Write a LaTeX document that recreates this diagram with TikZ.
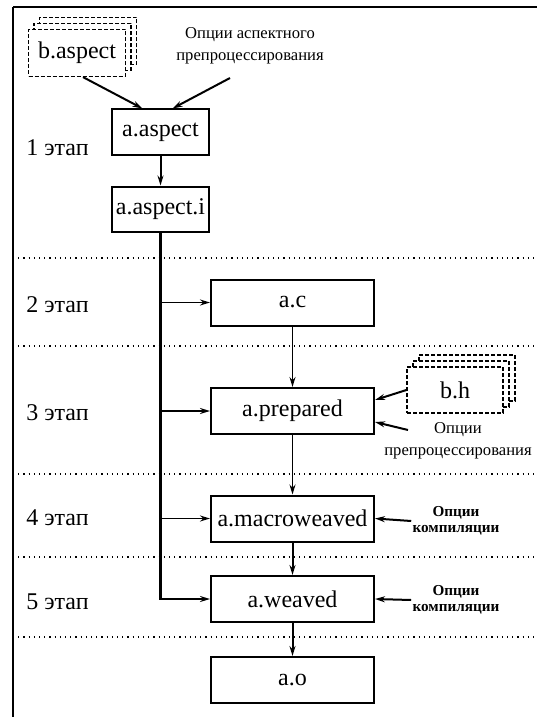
\documentclass[tikz,border=0pt]{standalone}
\usepackage{fontspec}
\setmainfont{Liberation Serif}
\newfontfamily\timesfont{Liberation Serif}
\usetikzlibrary{arrows.meta}

\tikzset{
  mainbox/.style={draw, line width=1pt, fill=white, minimum width=81.5pt, minimum height=23pt, inner sep=2pt, font=\timesfont\fontsize{12}{14}\selectfont},
  aspbox/.style={mainbox, minimum width=48.5pt, minimum height=22.5pt},
  srcbox/.style={draw, line width=0.6pt, dash pattern=on 2pt off 1pt, fill=white, minimum width=48.5pt, minimum height=23.5pt, inner sep=2pt, font=\timesfont\fontsize{12}{14}\selectfont},
  opttext/.style={align=center, inner sep=0.5pt, font=\timesfont\fontsize{8.3}{11}\selectfont},
  compopt/.style={align=center, inner sep=0.5pt, font=\timesfont\fontsize{7.6}{8}\selectfont\bfseries},
  stage/.style={anchor=west, inner sep=0pt, font=\timesfont\fontsize{12}{14}\selectfont},
  feed/.style={->, line width=1pt},
  thin feed/.style={->, line width=0.7pt}
}

\begin{document}
\begin{tikzpicture}[x=0.5pt, y=-0.5pt, >={Stealth[length=5pt,width=3pt]}]
    \useasboundingbox (0,0) rectangle (537,717);

    % Frame and stage borders
    \draw[line width=0.6pt] (13,717) -- (13,7);
    \draw[line width=0.9pt] (13,7) -- (537,7);
    \foreach \y in {258,346,474,557,637}
        \draw[line width=0.6pt, dotted] (13,\y) -- (537,\y);

    % Stages
    \foreach \n/\y in {1/148, 2/305, 3/413, 4/518, 5/602}
        \node[stage] (stage\n) at (26,\y) {\n{} этап};

    % Aspect sources
    \foreach \k in {2,1}
        \node[srcbox, xshift=\k*2.75pt, yshift=\k*3pt] at (77,53) {};
    \node[srcbox] (baspect) at (77,53) {b.aspect};
    \node[opttext] (optasp) at (250,46) {Опции аспектного\\препроцессирования};
    \coordinate (optasptail) at (230,78);

    % Stage 1
    \node[aspbox] (aaspect) at (160.5,132) {a.aspect};
    \node[aspbox] (aaspecti) at (160.5,209) {a.aspect.i};
    \draw[feed] ([xshift=3pt]baspect.south) -- ([xshift=-9pt]aaspect.north);
    \draw[feed] (optasptail) -- ([xshift=6pt]aaspect.north);
    \draw[feed] (aaspect) -- (aaspecti);

    % Stages 2--5
    \node[mainbox] (ac) at (292.5,302.5) {a.c};
    \node[mainbox] (aprep) at (292.5,411) {a.prepared};
    \node[mainbox] (amacro) at (292.5,518.5) {a.macroweaved};
    \node[mainbox] (aweaved) at (292.5,599) {a.weaved};
    \node[mainbox] (ao) at (292.5,680) {a.o};

    \draw[thin feed] (ac) -- (aprep);
    \draw[thin feed] (aprep) -- (amacro);
    \draw[feed] (amacro) -- (aweaved);
    \draw[feed] (aweaved) -- (ao);

    % Bus from a.aspect.i
    \draw[->, line width=1.2pt] (aaspecti.south) |- (aweaved.west);
    \foreach \n in {ac, aprep, amacro}
        \draw[->, line width=0.9pt] (aaspecti.south |- \n.west) -- (\n.west);

    % Headers
    \foreach \k in {2,1}
        \node[srcbox, minimum width=48pt, minimum height=23pt, xshift=\k*3pt, yshift=\k*3pt] at (455,390) {};
    \node[srcbox, minimum width=48pt, minimum height=23pt] (bh) at (455,390) {b.h};
    \node[opttext] (opth) at (458,441) {Опции\\препроцессирования};
    \coordinate (opthtail) at (408,430);
    \draw[feed] (bh.west) -- ([yshift=5.5pt]aprep.east);
    \draw[feed] (opthtail) -- ([yshift=-5.5pt]aprep.east);

    % Compile options
    \node[compopt] (optmacro) at (456,521) {Опции\\компиляции};
    \node[compopt] (optweaved) at (456,600) {Опции\\компиляции};
    \draw[feed] (optmacro.west) -- (amacro.east);
    \draw[feed] (optweaved.west) -- (aweaved.east);
\end{tikzpicture}
\end{document}
